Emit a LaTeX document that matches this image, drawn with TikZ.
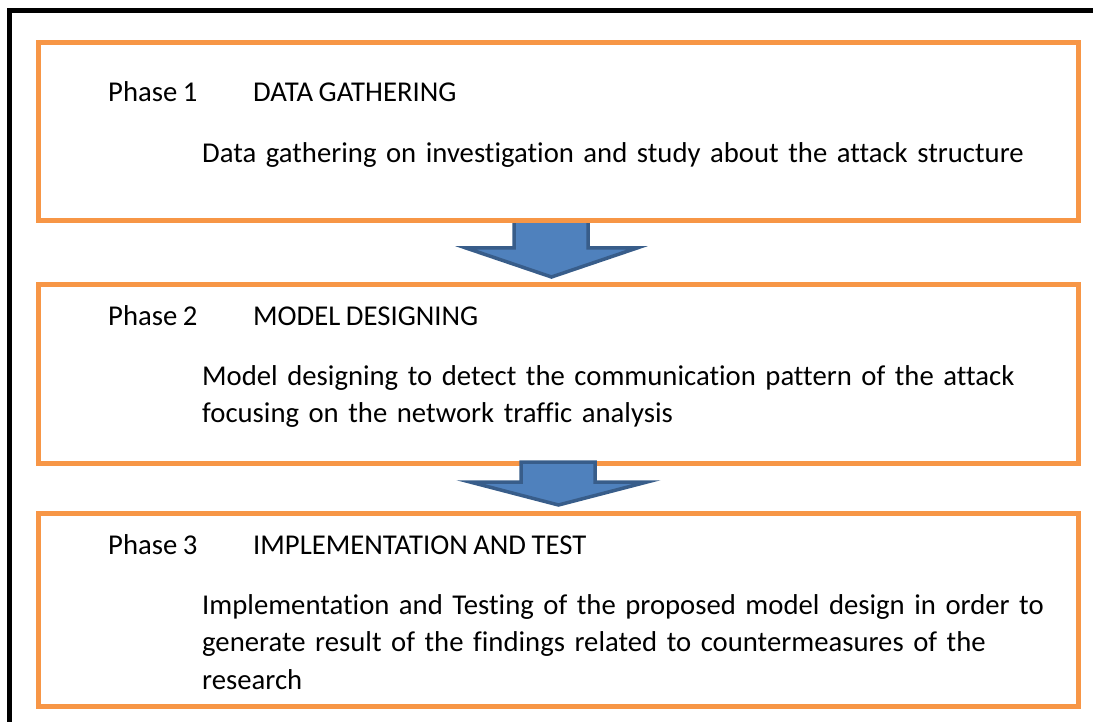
\documentclass[tikz,border=0pt]{standalone}
\usepackage{fontspec}
\setmainfont{Carlito}[Ligatures=NoCommon,WordSpace=0.85]
\definecolor{phaseorange}{HTML}{F79646}
\definecolor{arrowfill}{HTML}{4F81BD}
\definecolor{arrowline}{HTML}{385D8A}
\begin{document}
\begin{tikzpicture}[x=1pt,y=-1pt,
  phasebox/.style={draw=phaseorange,line width=5pt,line join=miter},
  blockarrow/.style={fill=arrowfill,draw=arrowline,line width=3.5pt,line join=miter},
  txt/.style={inner sep=0pt,anchor=base west,font=\fontsize{28.7}{37.8}\selectfont},
  desc/.style={txt,text width=880pt,align=left}]
\useasboundingbox (0,0) rectangle (1093,722);
\clip (0,0) rectangle (1093,722);
% outer frame
\draw[line width=5pt] (9.5,11) rectangle (1110,740);
% phase boxes
\coordinate (b1nw) at (38.5,42.5); \coordinate (b1se) at (1078.5,221);
\coordinate (b2nw) at (38.5,284.5); \coordinate (b2se) at (1078.5,463);
\coordinate (b3nw) at (38.5,513); \coordinate (b3se) at (1078.5,706);
% arrow 1 (drawn below box 1 border)
\draw[blockarrow] (514,221) -- (588,221) -- (588,248) -- (637,248) -- (551.5,277) -- (466,248) -- (514,248) -- cycle;
\draw[phasebox] (b1nw) rectangle (b1se);
\draw[phasebox] (b2nw) rectangle (b2se);
\draw[phasebox] (b3nw) rectangle (b3se);
% arrow 2 (drawn over box 2 border)
\draw[blockarrow] (521,462) -- (595,462) -- (595,482) -- (647,482) -- (558.5,505) -- (470,482) -- (521,482) -- cycle;
% texts
\node[txt] (p1) at (108,102) {Phase 1};
\node[txt] (t1) at (253,102) {DATA GATHERING};
\node[desc] (d1) at (202,163) {Data gathering on investigation and study about the attack structure};
\node[txt] (p2) at (108,326) {Phase 2};
\node[txt] (t2) at (253,326) {MODEL DESIGNING};
\node[desc] (d2) at (202,385) {Model designing to detect the communication pattern of the attack\\focusing on the network traffic analysis};
\node[txt] (p3) at (108,554) {Phase 3};
\node[txt] (t3) at (253,554) {IMPLEMENTATION AND TEST};
\node[desc] (d3) at (202,614) {Implementation and Testing of the proposed model design in order to\\generate result of the findings related to countermeasures of the\\research};
\end{tikzpicture}
\end{document}
